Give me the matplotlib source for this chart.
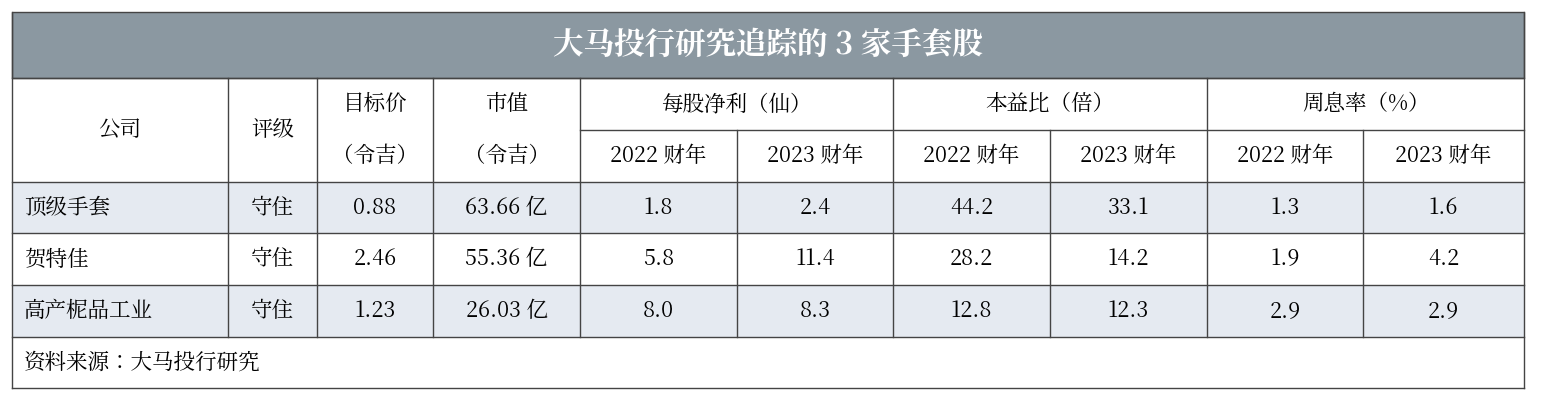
import matplotlib
matplotlib.use("Agg")
import matplotlib.pyplot as plt
from matplotlib.patches import Rectangle
from matplotlib import font_manager as fm

cjk_path = None
for f in fm.findSystemFonts():
    n = f.lower()
    if "cjk" in n and ("regular" in n or "sc" in n):
        cjk_path = f
        if "regular" in n:
            break
if cjk_path is None:
    for f in fm.findSystemFonts():
        if "cjk" in f.lower():
            cjk_path = f; break
if cjk_path:
    fm.fontManager.addfont(cjk_path)
    fam = fm.FontProperties(fname=cjk_path).get_name()
    plt.rcParams["font.family"] = [fam, "DejaVu Sans"]
else:
    plt.rcParams["font.family"] = ["Noto Sans CJK SC", "DejaVu Sans"]

title = "大马投行研究追踪的 3 家手套股"
companies = ["顶级手套", "贺特佳", "高产柅品工业"]
ratings = ["守住", "守住", "守住"]
target = ["0.88", "2.46", "1.23"]
mcap = ["63.66 亿", "55.36 亿", "26.03 亿"]
eps22 = ["1.8", "5.8", "8.0"]
eps23 = ["2.4", "11.4", "8.3"]
pe22 = ["44.2", "28.2", "12.8"]
pe23 = ["33.1", "14.2", "12.3"]
dy22 = ["1.3", "1.9", "2.9"]
dy23 = ["1.6", "4.2", "2.9"]
source = "资料来源：大马投行研究"

W, H = 1546, 404
fig = plt.figure(figsize=(W/100, H/100), dpi=100)
ax = fig.add_axes([0, 0, 1, 1])
ax.set_xlim(0, W); ax.set_ylim(H, 0); ax.axis("off")

xs = [12, 228, 317, 433, 580, 737, 893, 1050, 1207, 1363, 1524]
ys = [12, 78, 130, 182, 233, 285, 337, 388]
line = "#444444"
lw = 1.0
fs = 15.5

ax.add_patch(Rectangle((xs[0], ys[0]), xs[-1]-xs[0], ys[1]-ys[0], fc="#8b98a1", ec=line, lw=lw))
ax.text((xs[0]+xs[-1])/2, (ys[0]+ys[1])/2, title, color="white", fontsize=22, fontweight="bold", ha="center", va="center")

for r in (0, 2):
    ax.add_patch(Rectangle((xs[0], ys[3+r]), xs[-1]-xs[0], ys[4+r]-ys[3+r], fc="#e5eaf1", ec="none"))

def hl(y, x0, x1):
    ax.plot([x0, x1], [y, y], color=line, lw=lw)
def vl(x, y0, y1):
    ax.plot([x, x], [y0, y1], color=line, lw=lw)

for y in ys[1:]:
    if y != ys[2]:
        hl(y, xs[0], xs[-1])
hl(ys[2], xs[4], xs[-1])
vl(xs[0], ys[0], ys[-1]); vl(xs[-1], ys[0], ys[-1])
for i, x in enumerate(xs[1:-1], start=1):
    if i in (5, 7, 9):
        vl(x, ys[2], ys[6])
    else:
        vl(x, ys[1], ys[6])

def cell(t, c, y0, y1, ha="center", c1=None):
    x0 = xs[c]; x1 = xs[c1 if c1 is not None else c+1]
    if ha == "center":
        ax.text((x0+x1)/2, (y0+y1)/2, t, fontsize=fs, ha="center", va="center")
    else:
        ax.text(x0+12, (y0+y1)/2, t, fontsize=fs, ha="left", va="center")

cell("公司", 0, ys[1], ys[3]); cell("评级", 1, ys[1], ys[3])
cell("目标价", 2, ys[1], ys[2]); cell("（令吉）", 2, ys[2], ys[3])
cell("市值", 3, ys[1], ys[2]); cell("（令吉）", 3, ys[2], ys[3])
cell("每股净利（仙）", 4, ys[1], ys[2], c1=6)
cell("本益比（倍）", 6, ys[1], ys[2], c1=8)
cell("周息率（%）", 8, ys[1], ys[2], c1=10)
for c in range(4, 10):
    cell("2022 财年" if c % 2 == 0 else "2023 财年", c, ys[2], ys[3])

cols = [companies, ratings, target, mcap, eps22, eps23, pe22, pe23, dy22, dy23]
for r in range(3):
    for c, arr in enumerate(cols):
        cell(arr[r], c, ys[3+r], ys[4+r], ha="left" if c == 0 else "center")
ax.text(xs[0]+12, (ys[6]+ys[7])/2, source, fontsize=fs, ha="left", va="center")

fig.savefig("out.png", dpi=100, facecolor="white")
